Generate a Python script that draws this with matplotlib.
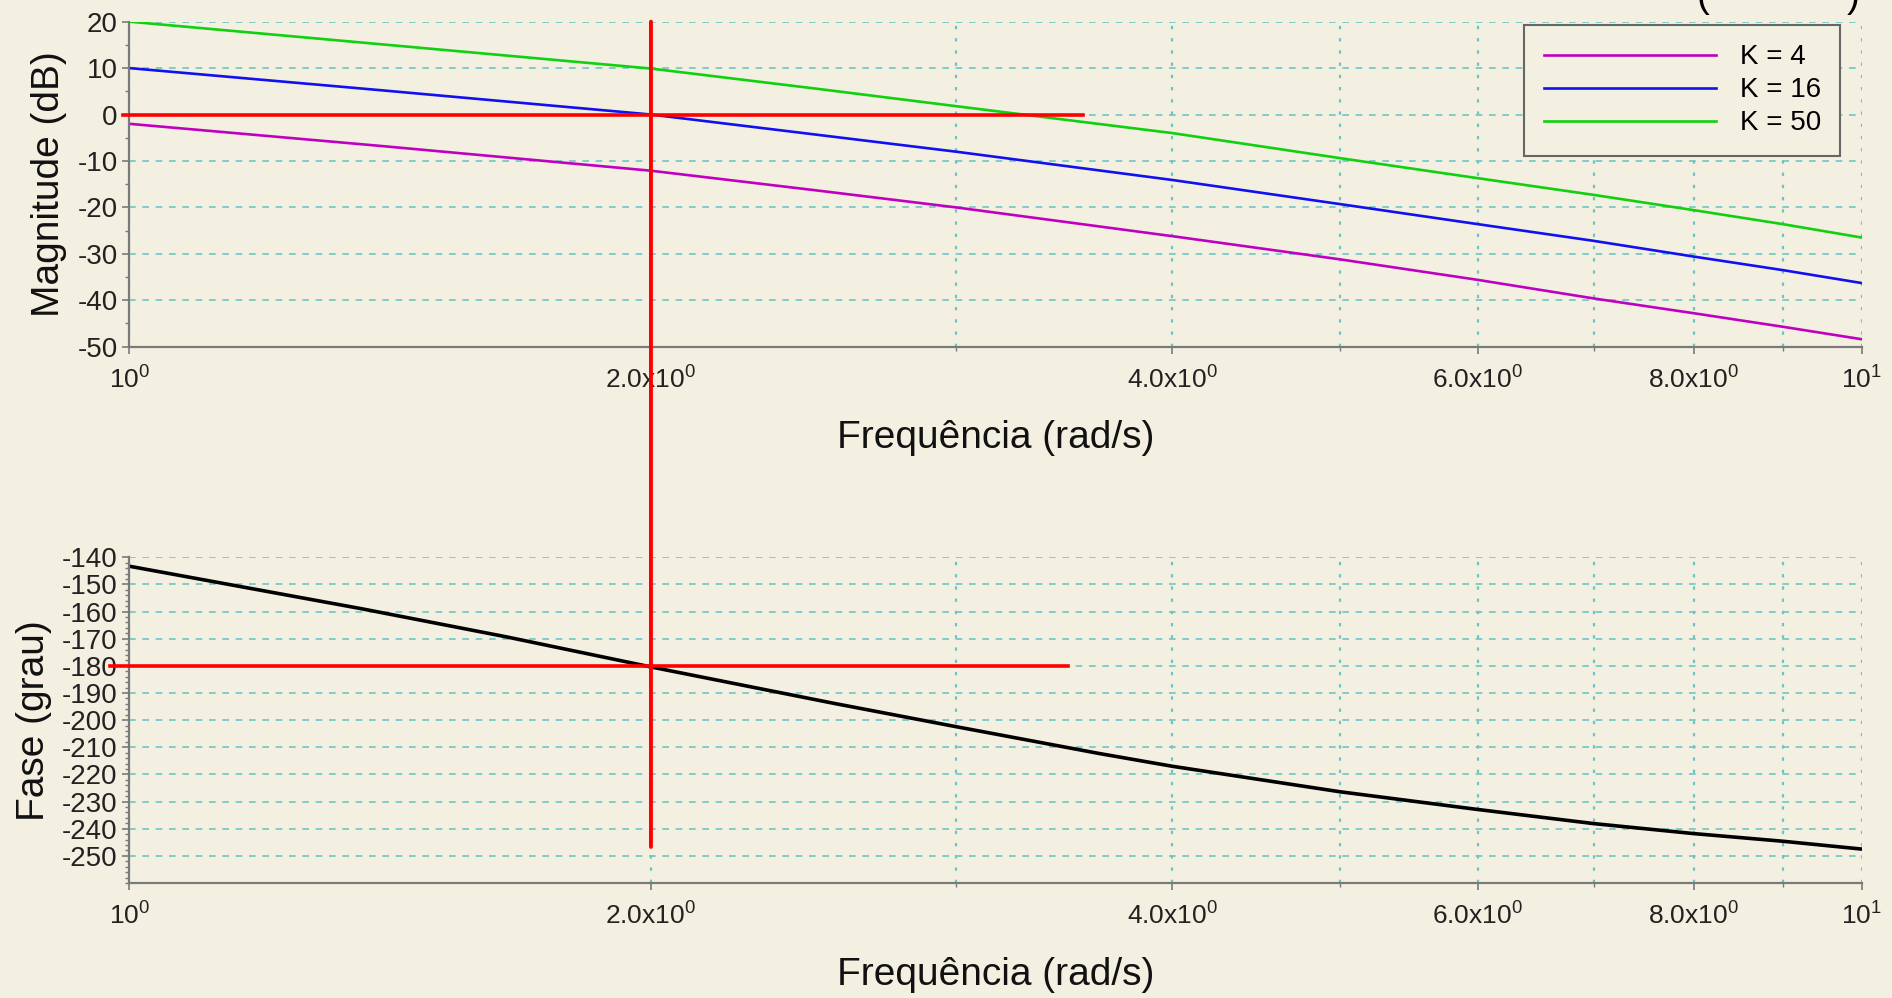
import matplotlib
matplotlib.use('Agg')
import matplotlib.pyplot as plt
from matplotlib.patches import ConnectionPatch
from matplotlib.ticker import FixedLocator, MultipleLocator, NullFormatter

plt.rcParams['font.family'] = ['Liberation Sans', 'DejaVu Sans']
plt.rcParams['mathtext.fontset'] = 'custom'
plt.rcParams['mathtext.rm'] = 'Liberation Sans'
plt.rcParams['mathtext.it'] = 'Liberation Sans:italic'
plt.rcParams['axes.unicode_minus'] = False

freq_mag = [1, 1.4, 2, 2.5, 3, 4, 5, 6, 7, 8, 9, 10]
mag_k4 = [-2.0, -6.8, -12.1, -16.4, -20.0, -26.2, -31.2, -35.6, -39.6, -42.8, -45.7, -48.4]
mag_k16 = [10.0, 5.2, 0.0, -4.4, -8.0, -14.1, -19.3, -23.6, -27.2, -30.6, -33.5, -36.3]
mag_k50 = [20.0, 15.1, 9.9, 5.5, 1.8, -4.0, -9.4, -13.7, -17.3, -20.6, -23.6, -26.5]
k_labels = ['K = 4', 'K = 16', 'K = 50']

freq_phase = [1, 1.36, 1.65, 2, 2.55, 3, 3.63, 4, 5, 6, 7, 8, 9, 10]
phase = [-143.3, -158.9, -169.3, -180.4, -193.8, -202.4, -212.3, -217.0,
         -226.4, -232.9, -238.1, -241.8, -244.6, -247.5]

xticks = [1, 2, 4, 6, 8, 10]
xtick_labels = [r'$\mathdefault{10^{0}}$', r'$\mathdefault{2.0x10^{0}}$',
                r'$\mathdefault{4.0x10^{0}}$', r'$\mathdefault{6.0x10^{0}}$',
                r'$\mathdefault{8.0x10^{0}}$', r'$\mathdefault{10^{1}}$']
xminor = [3, 5, 7, 9]

# marcacoes em vermelho (cruzamento 0 dB / -180 graus)
w_cross = 2.0
mag_line_x = [0.991, 3.55]
phase_line_x = [0.974, 3.48]
phase_cross = -180
vline_bottom = -246.7

bg = '#F3F0E1'
gridc = '#6cc5c5'
axc = '#7a7a7a'

fig = plt.figure(figsize=(18.92, 9.98), dpi=100, facecolor=bg)
ax1 = fig.add_axes([0.0684, 0.6526, 0.9157, 0.3257])
ax2 = fig.add_axes([0.0684, 0.1152, 0.9157, 0.3264])


def style(ax):
    ax.set_facecolor(bg)
    ax.set_xscale('log')
    ax.set_xlim(1, 10)
    ax.xaxis.set_major_locator(FixedLocator(xticks))
    ax.xaxis.set_minor_locator(FixedLocator(xminor))
    ax.set_xticklabels(xtick_labels)
    ax.xaxis.set_minor_formatter(NullFormatter())
    for s in ['top', 'right']:
        ax.spines[s].set_visible(False)
    for s in ['left', 'bottom']:
        ax.spines[s].set_color(axc)
        ax.spines[s].set_linewidth(1.6)
    ax.tick_params(which='both', colors=axc, labelcolor='#222222', labelsize=20)
    ax.tick_params(axis='x', labelsize=19)
    ax.tick_params(which='major', length=5, width=1.2)
    ax.tick_params(which='minor', length=3, width=1)
    ax.tick_params(axis='x', pad=9)
    ax.grid(axis='y', which='major', ls=(0, (4, 4)), color=gridc, lw=1.2)
    ax.grid(axis='x', which='both', ls=(0, (1.5, 4)), color=gridc, lw=1.6)
    ax.set_axisbelow(True)


style(ax1)
style(ax2)

ax1.plot(freq_mag, mag_k4, color='#c000c0', lw=1.9, label=k_labels[0])
ax1.plot(freq_mag, mag_k16, color='#1010f0', lw=1.9, label=k_labels[1])
ax1.plot(freq_mag, mag_k50, color='#10d010', lw=1.9, label=k_labels[2])
ax1.set_ylim(-50, 20)
ax1.yaxis.set_major_locator(MultipleLocator(10))
ax1.yaxis.set_minor_locator(MultipleLocator(5))
ax1.plot(mag_line_x, [0, 0], color='red', lw=2.6, clip_on=False, zorder=5)

leg = ax1.legend(loc='upper right', bbox_to_anchor=(0.9876, 0.99), borderaxespad=0,
                 fontsize=20, handlelength=6.2, handletextpad=0.85, borderpad=0.7,
                 labelspacing=0.25, fancybox=False, framealpha=1, facecolor=bg,
                 edgecolor='#666666')
leg.get_frame().set_linewidth(1.5)

ax2.plot(freq_phase, phase, color='black', lw=2.6)
ax2.set_ylim(-260, -140)
ax2.yaxis.set_major_locator(FixedLocator(list(range(-250, -139, 10))))
ax2.yaxis.set_minor_locator(MultipleLocator(2))
ax2.plot(phase_line_x, [phase_cross, phase_cross], color='red', lw=2.6,
         clip_on=False, zorder=5)

cp = ConnectionPatch(xyA=(w_cross, 20), coordsA='data', axesA=ax1,
                     xyB=(w_cross, vline_bottom), coordsB='data', axesB=ax2,
                     color='red', lw=2.8, zorder=6)
fig.add_artist(cp)

for ax, ylab, lx in [(ax1, 'Magnitude (dB)', -0.0465), (ax2, 'Fase (grau)', -0.0551)]:
    ax.set_xlabel('Frequência (rad/s)', fontsize=28, color='#111111')
    ax.xaxis.set_label_coords(0.5, -0.281)
    ax.xaxis.label.set_va('center')
    ax.set_ylabel(ylab, fontsize=28, color='#111111')
    ax.yaxis.set_label_coords(lx, 0.5)
    ax.yaxis.label.set_va('center')

# parenteses do titulo cortado no topo (como na figura original)
fig.text(1697 / 1892, 1 - 7 / 998, '(', fontsize=28, va='baseline', ha='left')
fig.text(1860 / 1892, 1 - 7 / 998, ')', fontsize=28, va='baseline', ha='right')

fig.savefig('out.png', dpi=100, facecolor=bg)
